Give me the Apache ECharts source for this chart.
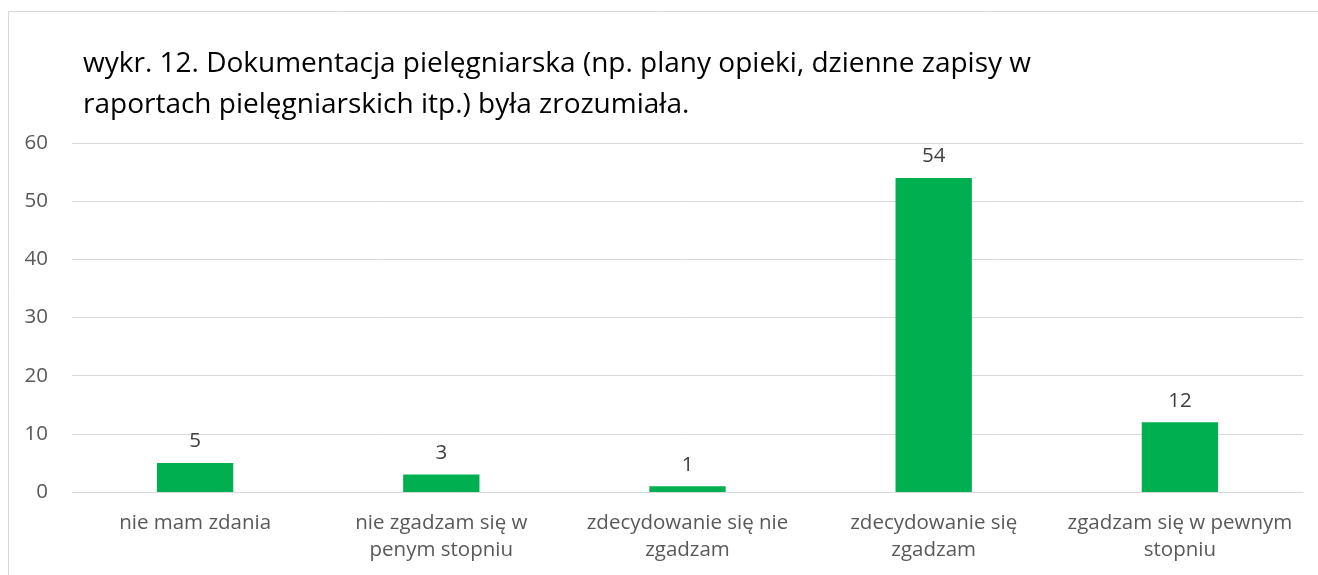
<!DOCTYPE html>
<html><head><meta charset="utf-8">
<script src="https://cdn.jsdelivr.net/npm/echarts@6/dist/echarts.min.js"></script>
<style>html,body{margin:0;padding:0;background:#fff}#c{width:1318px;height:575px}</style>
</head><body><div id="c"></div>
<script>
const categories = ["nie mam zdania", "nie zgadzam się w\npenym stopniu", "zdecydowanie się nie\nzgadzam", "zdecydowanie się\nzgadzam", "zgadzam się w pewnym\nstopniu"];
const values = [5, 3, 1, 54, 12];
const titleLines = "wykr. 12. Dokumentacja pielęgniarska (np. plany opieki, dzienne zapisy w\nraportach pielęgniarskich itp.) była zrozumiała.";
const FONT = "Open Sans";
const chart = echarts.init(document.getElementById('c'));
chart.setOption({
  animation: false,
  graphic: [{type:'rect', shape:{x:8.5,y:11.5,width:1400,height:700}, style:{fill:'none', stroke:'#d9d9d9', lineWidth:1}, silent:true}],
  title: {text: titleLines, left: 78, top: 39, textStyle:{fontFamily:FONT, fontSize:28, fontWeight:'normal', color:'#000', lineHeight:41}},
  grid: {left:72, right:15, top:143, bottom:83},
  xAxis: {type:'category', data: categories,
    axisLine:{lineStyle:{color:'#d9d9d9'}}, axisTick:{show:false},
    axisLabel:{fontFamily:FONT, fontSize:20.5, color:'#595959', lineHeight:27, margin:18, interval:0}},
  yAxis: {type:'value', min:0, max:60, interval:10,
    axisLine:{show:false}, axisTick:{show:false},
    splitLine:{lineStyle:{color:'#d9d9d9'}},
    axisLabel:{fontFamily:FONT, fontSize:20.5, color:'#595959', margin:24}},
  series: [{type:'bar', data: values, barWidth:'31%', itemStyle:{color:'#00B050'},
    label:{show:true, position:'top', distance:11, fontFamily:FONT, fontSize:20.5, color:'#404040'}}]
});
</script></body></html>
